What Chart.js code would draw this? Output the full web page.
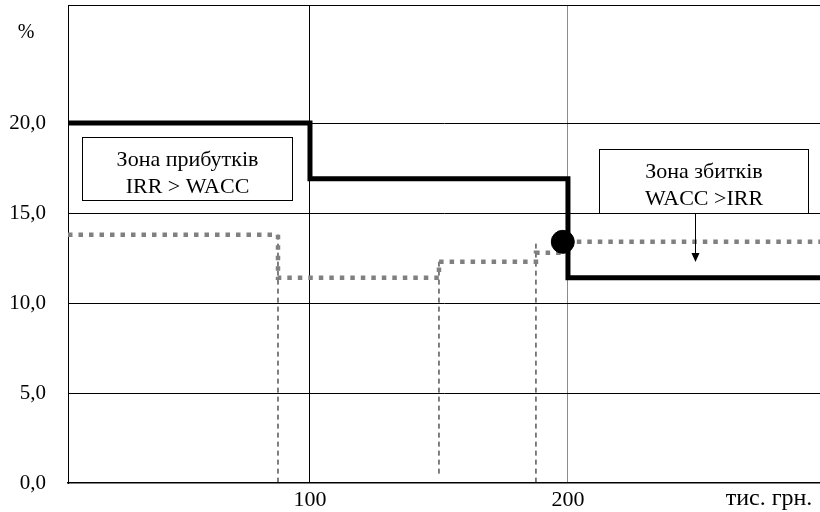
<!DOCTYPE html>
<html>
<head>
<meta charset="utf-8">
<script src="https://cdn.jsdelivr.net/npm/chart.js@4/dist/chart.umd.min.js"></script>
<style>
  body { margin: 0; background: #fff; }
  #wrap { width: 820px; height: 512px; }
</style>
</head>
<body>
<div id="wrap"><canvas id="grafik"></canvas></div>
<script>
// --- Дані ---
const irrX = [6.2, 100, 200, 298];
const irrY = [20, 16.9, 11.4, 11.4];

const waccX = [6.2, 87.6, 150, 187.6, 200, 298];
const waccY = [13.8, 11.4, 12.3, 12.8, 13.4, 13.4];

// пунктирні вертикалі (межі кредитів)
const dropX = [87.6, 150, 187.6];
const dropTop = [13.8, 12.3, 13.3];
const dropBottom = [0, 0.4, 0];

// точка перетину
const crossX = [198];
const crossY = [13.4];

const yTicks = [0, 5, 10, 15, 20];
const xTicks = [100, 200];
const xUnit = 'тис. грн.';
const yUnit = '%';

const zoneGain = ['Зона прибутків', 'IRR > WACC'];
const zoneLoss = ['Зона збитків', 'WACC >IRR'];

const FONT = '"Liberation Serif", "DejaVu Serif", serif';

// --- Побудова ---
const pts = (xs, ys) => xs.map((x, i) => ({ x: x, y: ys[i] }));

const dropSets = dropX.map((x, i) => ({
  data: [{ x: x, y: dropTop[i] }, { x: x, y: dropBottom[i] }],
  borderColor: '#000',
  borderWidth: 1,
  borderDash: [5, 4],
  pointRadius: 0,
  showLine: true,
  order: 3
}));

// рамки з текстом, стрілка, верхня межа, підписи одиниць
const extras = {
  id: 'extras',
  afterDatasetsDraw(chart) {
    const { ctx, chartArea, scales } = chart;
    const sx = scales.x, sy = scales.y;
    ctx.save();

    // верхня межа
    ctx.strokeStyle = '#000';
    ctx.lineWidth = 1;
    ctx.beginPath();
    ctx.moveTo(chartArea.left, chartArea.top + 0.5);
    ctx.lineTo(chartArea.right, chartArea.top + 0.5);
    ctx.stroke();

    const box = (x0, x1, y0, y1, lines) => {
      const l = Math.round(sx.getPixelForValue(x0)) + 0.5;
      const r = Math.round(sx.getPixelForValue(x1)) + 0.5;
      const t = Math.round(sy.getPixelForValue(y0)) + 0.5;
      const b = Math.round(sy.getPixelForValue(y1)) + 0.5;
      ctx.fillStyle = '#fff';
      ctx.fillRect(l, t, r - l, b - t);
      ctx.strokeStyle = '#000';
      ctx.lineWidth = 1;
      ctx.strokeRect(l, t, r - l, b - t);
      ctx.fillStyle = '#000';
      ctx.font = '22px ' + FONT;
      ctx.textAlign = 'center';
      ctx.textBaseline = 'alphabetic';
      const cx = (l + r) / 2;
      ctx.fillText(lines[0], cx, t + 28);
      ctx.fillText(lines[1], cx, t + 55.5);
    };

    box(11.6, 93, 19.25, 15.75, zoneGain);
    box(212, 293, 18.56, 15.0, zoneLoss);

    // стрілка
    const ax = Math.round(sx.getPixelForValue(249.2)) + 0.5;
    const ay0 = sy.getPixelForValue(15.0);
    const ay1 = sy.getPixelForValue(12.28);
    ctx.strokeStyle = '#000';
    ctx.lineWidth = 1;
    ctx.beginPath();
    ctx.moveTo(ax, ay0);
    ctx.lineTo(ax, ay1 - 8);
    ctx.stroke();
    ctx.fillStyle = '#000';
    ctx.beginPath();
    ctx.moveTo(ax - 4, ay1 - 9);
    ctx.lineTo(ax + 4, ay1 - 9);
    ctx.lineTo(ax, ay1);
    ctx.closePath();
    ctx.fill();

    // одиниці
    ctx.font = '20px ' + FONT;
    ctx.textAlign = 'center';
    ctx.textBaseline = 'middle';
    ctx.fillText(yUnit, 26, sy.getPixelForValue(25));
    ctx.font = '24px ' + FONT;
    ctx.fillText(xUnit, 769, 499);

    ctx.restore();
  }
};

new Chart(document.getElementById('grafik'), {
  type: 'scatter',
  data: {
    datasets: [
      {
        data: pts(irrX, irrY),
        showLine: true,
        stepped: 'before',
        borderColor: '#000',
        borderWidth: 5,
        pointRadius: 0,
        order: 1
      },
      {
        data: pts(waccX, waccY),
        showLine: true,
        stepped: 'before',
        borderColor: '#808080',
        borderWidth: 4.5,
        borderDash: [4.5, 6],
        borderCapStyle: 'butt',
        pointRadius: 0,
        order: 2
      },
      ...dropSets,
      {
        data: pts(crossX, crossY),
        backgroundColor: '#000',
        borderColor: '#000',
        pointRadius: 11.5,
        order: 0
      }
    ]
  },
  options: {
    responsive: true,
    maintainAspectRatio: false,
    animation: false,
    layout: { autoPadding: false, padding: { top: 5, right: 0, left: 0, bottom: 0 } },
    plugins: { legend: { display: false }, tooltip: { enabled: false } },
    scales: {
      x: {
        type: 'linear',
        min: 6.2,
        max: 297.7,
        afterBuildTicks: (axis) => {
          axis.ticks = xTicks.map(v => ({ value: v }));
        },
        afterFit: (axis) => {
          axis.height = 29;
          axis.paddingLeft = 0;
          axis.paddingRight = 0;
        },
        ticks: {
          autoSkip: false,
          maxRotation: 0,
          padding: 4,
          color: '#000',
          font: { family: FONT, size: 22 },
          callback: (v) => String(v)
        },
        grid: {
          drawTicks: false,
          color: (c) => {
            const v = c.tick && c.tick.value;
            if (v === 100) return '#000';
            if (v === 200) return '#8c8c8c';
            return 'rgba(0,0,0,0)';
          },
          lineWidth: 1
        },
        border: { color: '#000', width: 1.5 }
      },
      y: {
        type: 'linear',
        min: 0,
        max: 26.56,
        afterBuildTicks: (axis) => {
          axis.ticks = yTicks.map(v => ({ value: v }));
        },
        afterFit: (axis) => {
          axis.width = 68;
          axis.paddingTop = 0;
          axis.paddingBottom = 0;
        },
        ticks: {
          padding: 22,
          color: '#000',
          font: { family: FONT, size: 21 },
          callback: (v) => v.toFixed(1).replace('.', ',')
        },
        grid: {
          drawTicks: false,
          color: (c) => (c.tick && c.tick.value === 0 ? 'rgba(0,0,0,0)' : '#000'),
          lineWidth: 1
        },
        border: { color: '#000', width: 1 }
      }
    }
  },
  plugins: [extras]
});
</script>
</body>
</html>
